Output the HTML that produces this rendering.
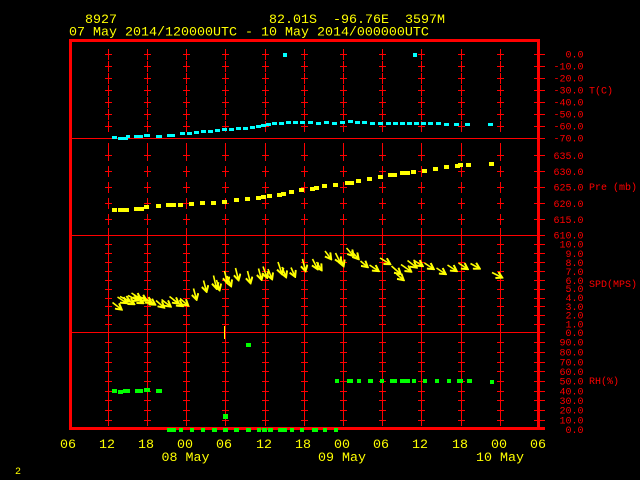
<!DOCTYPE html>
<html><head><meta charset="utf-8"><style>
html,body{margin:0;padding:0;background:#000;width:640px;height:480px;overflow:hidden}
svg{display:block}
text{font-family:"Liberation Mono","DejaVu Sans Mono",monospace}
</style></head><body>
<svg width="640" height="480" viewBox="0 0 640 480" xmlns="http://www.w3.org/2000/svg">
<defs>
<path id="col" fill="none" stroke="#ff0000" stroke-width="1" shape-rendering="crispEdges" d="
M-3 54.5h7M0.5 49v11 M-3 66.5h7M0.5 61v11 M-3 78.5h7M0.5 73v11 M-3 90.5h7M0.5 85v11 M-3 102.5h7M0.5 97v11 M-3 114.5h7M0.5 109v11 M-3 126.5h7M0.5 121v11
M-3 155.5h7M0.5 150v11 M-3 171.5h7M0.5 166v11 M-3 187.5h7M0.5 182v11 M-3 203.5h7M0.5 198v11 M-3 219.5h7M0.5 214v11
M0.5 228v12
M-3 244.5h7M0.5 239v11 M-3 253.5h7M0.5 248v11 M-3 262.5h7M0.5 257v11 M-3 271.5h7M0.5 266v11 M-3 280.5h7M0.5 275v11 M-3 289.5h7M0.5 284v11 M-3 298.5h7M0.5 293v11 M-3 306.5h7M0.5 301v11 M-3 315.5h7M0.5 310v11 M-3 324.5h7M0.5 319v11
M0.5 326v12
M-3 342.5h7M0.5 337v11 M-3 352.5h7M0.5 347v11 M-3 362.5h7M0.5 357v11 M-3 371.5h7M0.5 366v11 M-3 381.5h7M0.5 376v11 M-3 391.5h7M0.5 386v11 M-3 400.5h7M0.5 395v11 M-3 410.5h7M0.5 405v11 M-3 420.5h7M0.5 415v11
M0.5 143v12"/>
<marker id="ah" viewBox="0 0 8 8" refX="6.5" refY="4" markerWidth="8" markerHeight="8" orient="auto" markerUnits="userSpaceOnUse">
<path d="M0.8,0.6 L6.8,4 L0.8,7.4" fill="none" stroke="#ffff00" stroke-width="2"/>
</marker>
</defs>

<!-- title -->
<g fill="#ffff00" font-size="13.33">
<text x="85" y="23">8927</text>
<text x="269" y="23" xml:space="preserve">82.01S  -96.76E  3597M</text>
<text x="69" y="35.3">07 May 2014/120000UTC - 10 May 2014/000000UTC</text>
</g>

<!-- cross columns -->
<use href="#col" x="108"/>
<use href="#col" x="147"/>
<use href="#col" x="186"/>
<use href="#col" x="225"/>
<use href="#col" x="265"/>
<use href="#col" x="304"/>
<use href="#col" x="343"/>
<use href="#col" x="382"/>
<use href="#col" x="421"/>
<use href="#col" x="461"/>
<use href="#col" x="500"/>

<!-- dividers and right ticks -->
<path fill="none" stroke="#ff0000" stroke-width="1" shape-rendering="crispEdges" d="
M72 138.5H545 M72 235.5H545 M72 332.5H545
M534 54.5h11 M534 66.5h11 M534 78.5h11 M534 90.5h11 M534 102.5h11 M534 114.5h11 M534 126.5h11
M534 155.5h11 M534 171.5h11 M534 187.5h11 M534 203.5h11 M534 219.5h11
M534 244.5h11 M534 253.5h11 M534 262.5h11 M534 271.5h11 M534 280.5h11 M534 289.5h11 M534 298.5h11 M534 306.5h11 M534 315.5h11 M534 324.5h11
M534 342.5h11 M534 352.5h11 M534 362.5h11 M534 371.5h11 M534 381.5h11 M534 391.5h11 M534 400.5h11 M534 410.5h11 M534 420.5h11"/>

<!-- frame -->
<g fill="#ff0000" shape-rendering="crispEdges">
<rect x="69" y="39" width="471" height="3"/>
<rect x="69" y="39" width="3" height="391"/>
<rect x="69" y="427" width="471" height="3"/>
<rect x="537" y="39" width="3" height="391"/>
<rect x="534" y="427" width="11" height="3"/>
</g>

<!-- right axis labels -->
<g fill="#ff0000" font-size="10" text-anchor="end">
<text x="583.5" y="57.5">0.0</text>
<text x="583.5" y="69.5">-10.0</text>
<text x="583.5" y="81.5">-20.0</text>
<text x="583.5" y="93.5">-30.0</text>
<text x="583.5" y="105.5">-40.0</text>
<text x="583.5" y="117.5">-50.0</text>
<text x="583.5" y="129.5">-60.0</text>
<text x="583.5" y="141.5">-70.0</text>
<text x="583.5" y="159">635.0</text>
<text x="583.5" y="175">630.0</text>
<text x="583.5" y="190.5">625.0</text>
<text x="583.5" y="207">620.0</text>
<text x="583.5" y="223">615.0</text>
<text x="583.5" y="238.5">610.0</text>
<text x="583.5" y="247.5">10.0</text>
<text x="583.5" y="257">9.0</text>
<text x="583.5" y="266">8.0</text>
<text x="583.5" y="275">7.0</text>
<text x="583.5" y="284">6.0</text>
<text x="583.5" y="292">5.0</text>
<text x="583.5" y="301">4.0</text>
<text x="583.5" y="310">3.0</text>
<text x="583.5" y="318.5">2.0</text>
<text x="583.5" y="327.5">1.0</text>
<text x="583.5" y="336">0.0</text>
<text x="583.5" y="345.5">90.0</text>
<text x="583.5" y="355.5">80.0</text>
<text x="583.5" y="365.5">70.0</text>
<text x="583.5" y="375">60.0</text>
<text x="583.5" y="384.5">50.0</text>
<text x="583.5" y="394.5">40.0</text>
<text x="583.5" y="404">30.0</text>
<text x="583.5" y="413.5">20.0</text>
<text x="583.5" y="423.5">10.0</text>
<text x="583.5" y="433">0.0</text>
</g>
<g fill="#ff0000" font-size="10">
<text x="589" y="93.5">T(C)</text>
<text x="589" y="190">Pre (mb)</text>
<text x="589" y="287">SPD(MPS)</text>
<text x="589" y="384">RH(%)</text>
</g>

<!-- bottom axis labels -->
<g fill="#ffff00" font-size="13.33" text-anchor="middle">
<text x="68" y="448">06</text>
<text x="107" y="448">12</text>
<text x="146" y="448">18</text>
<text x="185" y="448">00</text>
<text x="224" y="448">06</text>
<text x="264" y="448">12</text>
<text x="303" y="448">18</text>
<text x="342" y="448">00</text>
<text x="381" y="448">06</text>
<text x="420" y="448">12</text>
<text x="460" y="448">18</text>
<text x="499" y="448">00</text>
<text x="538" y="448">06</text>
<text x="185.5" y="461">08 May</text>
<text x="342" y="461">09 May</text>
<text x="500" y="461">10 May</text>
</g>
<text x="15" y="474" fill="#ffff00" font-size="10">2</text>

<!-- temperature (cyan) -->
<g fill="#00ffff" shape-rendering="crispEdges">
<rect x="283" y="53" width="4" height="4"/>
<rect x="413" y="53" width="4" height="4"/>
<rect x="112" y="136" width="5" height="3"/>
<rect x="118" y="137" width="10" height="3"/>
<rect x="126" y="135" width="4" height="3"/>
<rect x="134" y="135" width="9" height="3"/>
<rect x="144" y="134" width="6" height="3"/>
<rect x="156" y="135" width="6" height="3"/>
<rect x="167" y="134" width="8" height="3"/>
<rect x="180" y="132" width="5" height="3"/>
<rect x="187" y="132" width="5" height="3"/>
<rect x="194" y="131" width="5" height="3"/>
<rect x="201" y="130" width="5" height="3"/>
<rect x="208" y="130" width="5" height="3"/>
<rect x="215" y="129" width="5" height="3"/>
<rect x="222" y="128" width="5" height="3"/>
<rect x="229" y="128" width="5" height="3"/>
<rect x="236" y="127" width="5" height="3"/>
<rect x="243" y="127" width="5" height="3"/>
<rect x="250" y="126" width="5" height="3"/>
<rect x="256" y="125" width="5" height="3"/>
<rect x="261" y="124" width="5" height="3"/>
<rect x="266" y="123" width="5" height="3"/>
<rect x="272" y="122" width="5" height="3"/>
<rect x="279" y="122" width="5" height="3"/>
<rect x="286" y="121" width="5" height="3"/>
<rect x="293" y="121" width="5" height="3"/>
<rect x="300" y="121" width="5" height="3"/>
<rect x="308" y="121" width="5" height="3"/>
<rect x="316" y="122" width="5" height="3"/>
<rect x="324" y="121" width="5" height="3"/>
<rect x="332" y="122" width="5" height="3"/>
<rect x="340" y="121" width="5" height="3"/>
<rect x="348" y="120" width="5" height="3"/>
<rect x="355" y="121" width="5" height="3"/>
<rect x="362" y="121" width="5" height="3"/>
<rect x="370" y="122" width="5" height="3"/>
<rect x="378" y="122" width="5" height="3"/>
<rect x="386" y="122" width="5" height="3"/>
<rect x="393" y="122" width="5" height="3"/>
<rect x="400" y="122" width="5" height="3"/>
<rect x="407" y="122" width="5" height="3"/>
<rect x="414" y="122" width="5" height="3"/>
<rect x="421" y="122" width="5" height="3"/>
<rect x="428" y="122" width="5" height="3"/>
<rect x="436" y="122" width="5" height="3"/>
<rect x="444" y="123" width="5" height="3"/>
<rect x="454" y="123" width="5" height="3"/>
<rect x="465" y="123" width="5" height="3"/>
<rect x="488" y="123" width="5" height="3"/>
</g>

<!-- pressure (yellow) -->
<path fill="#ffff00" shape-rendering="crispEdges" d="
M112 208h5v4h-5z M118 208h5v4h-5z M120 208h5v4h-5z M124 208h5v4h-5z
M134 207h5v4h-5z M139 207h5v4h-5z M144 205h5v4h-5z M156 204h5v4h-5z
M166 203h5v4h-5z M171 203h5v4h-5z M178 203h5v4h-5z M189 202h5v4h-5z
M200 201h5v4h-5z M211 201h5v4h-5z M222 200h5v4h-5z M234 198h5v4h-5z
M245 197h5v4h-5z M256 196h5v4h-5z M261 195h5v4h-5z M267 194h5v4h-5z
M277 193h5v4h-5z M281 192h5v4h-5z M289 190h5v4h-5z M299 188h5v4h-5z
M310 187h5v4h-5z M314 186h5v4h-5z M322 184h5v4h-5z M333 183h5v4h-5z
M345 181h5v4h-5z M349 181h5v4h-5z M356 179h5v4h-5z M367 177h5v4h-5z
M378 175h5v4h-5z M388 173h5v4h-5z M392 173h5v4h-5z M400 171h5v4h-5z
M405 171h5v4h-5z M411 170h5v4h-5z M422 169h5v4h-5z M433 167h5v4h-5z
M444 165h5v4h-5z M455 164h5v4h-5z M458 163h5v4h-5z M466 163h5v4h-5z
M489 162h5v4h-5z"/>

<!-- wind arrows (yellow) -->
<g fill="none" stroke="#ffff00" stroke-width="1.6" marker-end="url(#ah)">
<path d="M112.5 302.5l9 7"/>
<path d="M117.5 297l9 6"/>
<path d="M120 296.5l10 5"/>
<path d="M124 298l10 6"/>
<path d="M128 295.5l10 5"/>
<path d="M131.5 293l9 6"/>
<path d="M133 297l10 6"/>
<path d="M137.5 295.5l9 5"/>
<path d="M142.5 297l9 6"/>
<path d="M147 299.5l8 5"/>
<path d="M156 300.5l8 7"/>
<path d="M161.5 299.5l9 7"/>
<path d="M169.5 296.5l9 7"/>
<path d="M173.5 300l9 6"/>
<path d="M180 298.5l8 7"/>
<path d="M193.5 288.5l3 11"/>
<path d="M203.5 280.5l3 11"/>
<path d="M213.5 275.5l3 13"/>
<path d="M216.5 280l3 10"/>
<path d="M224.5 271l3 12"/>
<path d="M227 276l4 10"/>
<path d="M235.5 268l3 12"/>
<path d="M247.5 271l3 12"/>
<path d="M258.5 268.5l3 11"/>
<path d="M263 266.5l4 11"/>
<path d="M268 269l4 10"/>
<path d="M278 262l4 12"/>
<path d="M282 267l4 10"/>
<path d="M291 267.5l4 9"/>
<path d="M302.5 259l3 12"/>
<path d="M312.5 259l5 10"/>
<path d="M316.5 262l5 8"/>
<path d="M325 251l6 8"/>
<path d="M335.5 253l5 10"/>
<path d="M340.5 258l3 8"/>
<path d="M346.5 248l7 8"/>
<path d="M351.5 251l7 8"/>
<path d="M360.5 261l7 6"/>
<path d="M369.5 265l9 6"/>
<path d="M380 258l10 6"/>
<path d="M391.5 266l9 8"/>
<path d="M396.5 274l7 6"/>
<path d="M401 264.5l10 7"/>
<path d="M407.5 260.5l9 7"/>
<path d="M413.5 260l9 6"/>
<path d="M424.5 263l9 6"/>
<path d="M436.5 268l9 6"/>
<path d="M447.5 265l9 6"/>
<path d="M458.5 263l9 6"/>
<path d="M470.5 263.5l9 5"/>
<path d="M492 272.5l10 5"/>
</g>
<rect x="224" y="326" width="1" height="13" fill="#ffff00"/>

<!-- RH (green) -->
<g fill="#00ff00" shape-rendering="crispEdges">
<rect x="246" y="343" width="5" height="4"/>
<rect x="223" y="414" width="5" height="5"/>
<rect x="112" y="389" width="5" height="4"/>
<rect x="118" y="390" width="5" height="4"/>
<rect x="123" y="389" width="7" height="4"/>
<rect x="135" y="389" width="8" height="4"/>
<rect x="144" y="388" width="6" height="4"/>
<rect x="156" y="389" width="6" height="4"/>
<rect x="335" y="379" width="4" height="4"/>
<rect x="347" y="379" width="6" height="4"/>
<rect x="357" y="379" width="4" height="4"/>
<rect x="368" y="379" width="5" height="4"/>
<rect x="380" y="379" width="4" height="4"/>
<rect x="390" y="379" width="7" height="4"/>
<rect x="400" y="379" width="10" height="4"/>
<rect x="412" y="379" width="4" height="4"/>
<rect x="423" y="379" width="4" height="4"/>
<rect x="435" y="379" width="4" height="4"/>
<rect x="447" y="379" width="4" height="4"/>
<rect x="457" y="379" width="6" height="4"/>
<rect x="467" y="379" width="5" height="4"/>
<rect x="490" y="380" width="4" height="4"/>
<rect x="167" y="428" width="9" height="4"/>
<rect x="179" y="428" width="4" height="4"/>
<rect x="190" y="428" width="4" height="4"/>
<rect x="201" y="428" width="4" height="4"/>
<rect x="212" y="428" width="5" height="4"/>
<rect x="223" y="428" width="5" height="4"/>
<rect x="234" y="428" width="5" height="4"/>
<rect x="246" y="428" width="5" height="4"/>
<rect x="257" y="428" width="4" height="4"/>
<rect x="262" y="428" width="5" height="4"/>
<rect x="268" y="428" width="5" height="4"/>
<rect x="278" y="428" width="9" height="4"/>
<rect x="290" y="428" width="4" height="4"/>
<rect x="300" y="428" width="4" height="4"/>
<rect x="312" y="428" width="6" height="4"/>
<rect x="323" y="428" width="4" height="4"/>
<rect x="334" y="428" width="4" height="4"/>
</g>
</svg>
</body></html>
